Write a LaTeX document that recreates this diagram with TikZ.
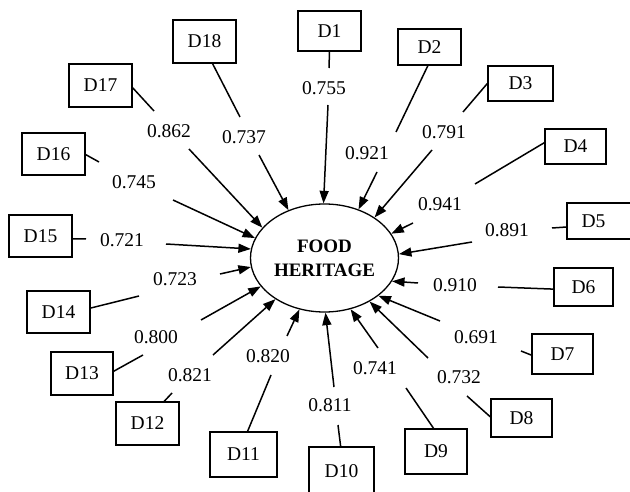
\documentclass[tikz,border=0pt]{standalone}
\usepackage{fontspec}
\setmainfont{Liberation Serif}
\usetikzlibrary{arrows.meta,shapes.geometric}
\begin{document}
\begin{tikzpicture}[x=1pt,y=-1pt,
  dbox/.style={draw, line width=1.3pt, inner sep=0pt, font=\fontsize{19.5}{23}\selectfont},
  lbl/.style={inner sep=0pt, font=\fontsize{19.5}{23}\selectfont},
  seg/.style={line width=1.5pt},
  arr/.style={line width=1.5pt, -{Triangle[length=12.5pt,width=9pt]}}]
\useasboundingbox (0,0) rectangle (630,492);
\clip (0,0) rectangle (630,492);
% central construct
\node[draw, ellipse, line width=1.3pt, minimum width=148pt, minimum height=108pt, inner sep=0pt,
      align=center, font=\fontsize{19}{24}\selectfont\bfseries] (fh) at (324.5,258) {FOOD\\HERITAGE};
% indicator boxes
\node[dbox, minimum width=63pt, minimum height=40pt] (d1) at (329.5,31) {D1};
\node[dbox, minimum width=63pt, minimum height=36pt] (d2) at (429.5,47) {D2};
\node[dbox, minimum width=65pt, minimum height=35pt] (d3) at (520.5,83.5) {D3};
\node[dbox, minimum width=61pt, minimum height=35pt] (d4) at (575.5,146.5) {D4};
\node[dbox, minimum width=67pt, minimum height=36pt] (d5) at (600.5,221) {\hspace*{-14pt}D5};
\node[dbox, minimum width=59pt, minimum height=38pt] (d6) at (583.5,287) {D6};
\node[dbox, minimum width=61pt, minimum height=40pt] (d7) at (562.5,354) {D7};
\node[dbox, minimum width=61pt, minimum height=38pt] (d8) at (521.5,418) {D8};
\node[dbox, minimum width=62pt, minimum height=45pt] (d9) at (436,451.5) {D9};
\node[dbox, minimum width=65pt, minimum height=48pt] (d10) at (341.5,471) {D10};
\node[dbox, minimum width=67pt, minimum height=45pt] (d11) at (243.5,454.5) {D11};
\node[dbox, minimum width=63pt, minimum height=43pt] (d12) at (147.5,423.5) {D12};
\node[dbox, minimum width=62pt, minimum height=43pt] (d13) at (82,373.5) {D13};
\node[dbox, minimum width=63pt, minimum height=42pt] (d14) at (58.5,312) {D14};
\node[dbox, minimum width=63pt, minimum height=42pt] (d15) at (40.5,236) {D15};
\node[dbox, minimum width=63pt, minimum height=42pt] (d16) at (53.5,154) {D16};
\node[dbox, minimum width=63pt, minimum height=43pt] (d17) at (100.5,85.5) {D17};
\node[dbox, minimum width=63pt, minimum height=43pt] (d18) at (204.5,41.5) {D18};
% loading labels
\node[lbl] (l1) at (324,88) {0.755};
\node[lbl] (l2) at (367,153) {0.921};
\node[lbl] (l3) at (444,132) {0.791};
\node[lbl] (l4) at (440,204) {0.941};
\node[lbl] (l5) at (507,230) {0.891};
\node[lbl] (l6) at (455,285) {0.910};
\node[lbl] (l7) at (476,337) {0.691};
\node[lbl] (l8) at (459,377) {0.732};
\node[lbl] (l9) at (375,368) {0.741};
\node[lbl] (l10) at (330,405) {0.811};
\node[lbl] (l11) at (268,356) {0.820};
\node[lbl] (l12) at (190,375) {0.821};
\node[lbl] (l13) at (156,337) {0.800};
\node[lbl] (l14) at (175,279) {0.723};
\node[lbl] (l15) at (122,240) {0.721};
\node[lbl] (l16) at (134,182) {0.745};
\node[lbl] (l17) at (169,131) {0.862};
\node[lbl] (l18) at (244,137) {0.737};
% free ends of the broken connectors
\coordinate (e1) at (329,68);   \coordinate (a1) at (328,105);
\coordinate (e2) at (396,132);  \coordinate (a2) at (377,172);
\coordinate (e3) at (463,112);  \coordinate (a3) at (432,150);
\coordinate (e4) at (475,184);  \coordinate (a4) at (413,223);
\coordinate (e5) at (552,228);  \coordinate (a5) at (472,242);
\coordinate (e6) at (498,287);  \coordinate (a6) at (418,283);
\coordinate (e7) at (521,351);  \coordinate (a7) at (440,321);
\coordinate (e8) at (467,396);  \coordinate (a8) at (428,358);
\coordinate (e9) at (406,388);  \coordinate (a9) at (378,348);
\coordinate (e10) at (338,425); \coordinate (a10) at (334,387);
\coordinate (e11) at (271,375); \coordinate (a11) at (287,336);
\coordinate (e12) at (172,393); \coordinate (a12) at (213,355);
\coordinate (e13) at (143,355); \coordinate (a13) at (201,320);
\coordinate (e14) at (139,296); \coordinate (a14) at (220,274);
\coordinate (e15) at (86,239);  \coordinate (a15) at (166,244);
\coordinate (e16) at (99,162);  \coordinate (a16) at (173,200);
\coordinate (e17) at (154,111); \coordinate (a17) at (189,149);
\coordinate (e18) at (240,117); \coordinate (a18) at (259,155);
% connectors
\draw[seg] (d1.-90) -- (e1);    \draw[arr] (a1) -- (fh.91);
\draw[seg] (d2.-95) -- (e2);    \draw[arr] (a2) -- (fh.55.8);
\draw[seg] (d3.180) -- (e3);    \draw[arr] (a3) -- (fh.39.6);
\draw[seg] (d4.173.7) -- (e4);  \draw[arr] (a4) -- (fh.20.2);
\draw[seg] (d5.-170) -- (e5);   \draw[arr] (a5) -- (fh.3.1);
\draw[seg] (d6.-176) -- (e6);   \draw[arr] (a6) -- (fh.-19.7);
\draw[seg] (d7.-178) -- (e7);   \draw[arr] (a7) -- (fh.-35.8);
\draw[seg] (d8.178) -- (e8);    \draw[arr] (a8) -- (fh.-44.4);
\draw[seg] (d9.96) -- (e9);     \draw[arr] (a9) -- (fh.-63);
\draw[seg] (d10.92) -- (e10);   \draw[arr] (a10) -- (fh.-89);
\draw[seg] (d11.80) -- (e11);   \draw[arr] (a11) -- (fh.-116.1);
\draw[seg] (d12.53) -- (e12);   \draw[arr] (a12) -- (fh.-140.1);
\draw[seg] (d13.4.6) -- (e13);  \draw[arr] (a13) -- (fh.-156.2);
\draw[seg] (d14.7.2) -- (e14);  \draw[arr] (a14) -- (fh.-173);
\draw[seg] (d15.-5.4) -- (e15); \draw[arr] (a15) -- (fh.173.3);
\draw[seg] (d16.-1.8) -- (e16); \draw[arr] (a16) -- (fh.164.5);
\draw[seg] (d17.-4.5) -- (e17); \draw[arr] (a17) -- (fh.154.2);
\draw[seg] (d18.-70) -- (e18);  \draw[arr] (a18) -- (fh.127.2);
\end{tikzpicture}
\end{document}
